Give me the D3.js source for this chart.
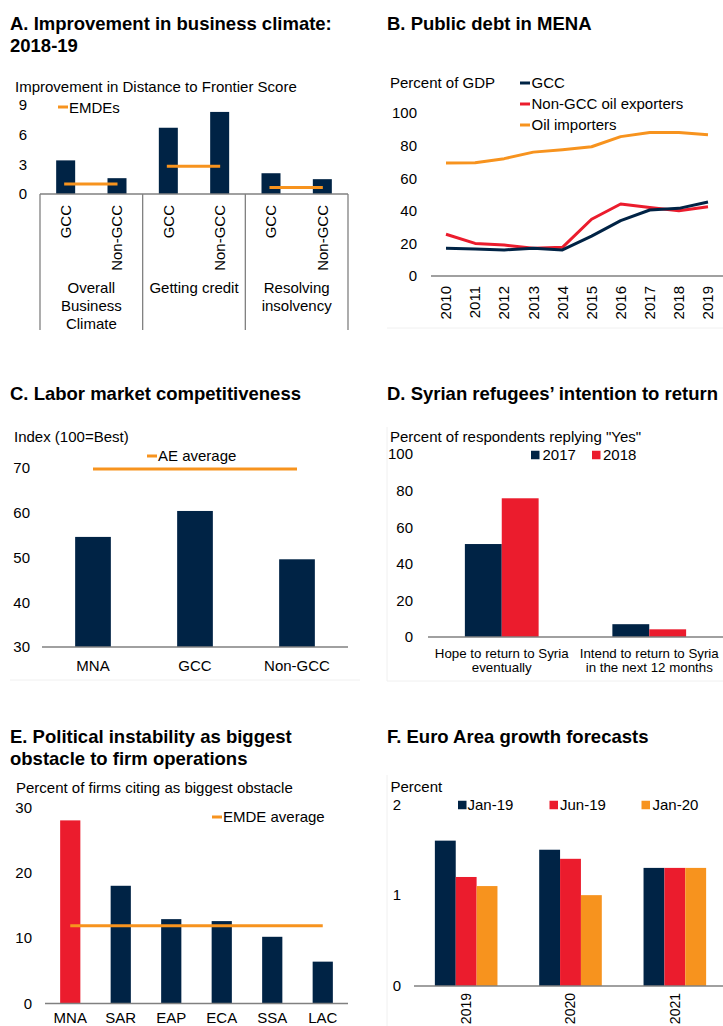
<!DOCTYPE html>
<html>
<head>
<meta charset="utf-8">
<script src="https://cdn.jsdelivr.net/npm/d3@7"></script>
<style>
  body { margin: 0; background: #fff; }
  svg text { font-family: "Liberation Sans", Arial, sans-serif; fill: #000; }
</style>
</head>
<body>
<svg id="chart" width="723" height="1026"></svg>
<script>
// ---- Panel A: business climate ----
const aGroupLines = [["Overall", "Business", "Climate"], ["Getting credit"], ["Resolving", "insolvency"]];
const aGroups = ["Overall Business Climate", "Getting credit", "Resolving insolvency"];
const aSubs = ["GCC", "Non-GCC"];
const aGCC = [3.4, 6.7, 2.1];
const aNonGCC = [1.6, 8.3, 1.5];
const aEMDE = [1.0, 2.8, 0.65];
const aTicks = [0, 3, 6, 9];

// ---- Panel B: public debt ----
const bYears = ["2010", "2011", "2012", "2013", "2014", "2015", "2016", "2017", "2018", "2019"];
const bGCC = [17, 16.5, 16, 17, 16, 24.5, 34, 40.5, 41.5, 45.4];
const bNonGCCExp = [25.6, 20, 19, 17, 17.6, 34.8, 44.2, 42, 40, 42.5];
const bImporters = [69.3, 69.5, 72, 76, 77.5, 79.3, 85.5, 88, 88, 86.7];
const bTicks = [0, 20, 40, 60, 80, 100];

// ---- Panel C: labor market ----
const cCats = ["MNA", "GCC", "Non-GCC"];
const cValues = [54.6, 60.4, 49.6];
const cAE = 69.8;
const cTicks = [30, 40, 50, 60, 70];

// ---- Panel D: refugees ----
const dCatLines = [["Hope to return to Syria", "eventually"], ["Intend to return to Syria", "in the next 12 months"]];
const dCats = ["Hope", "Intend"];
const dSeries = ["2017", "2018"];
const d2017 = [50.8, 7.0];
const d2018 = [75.8, 4.2];
const dTicks = [0, 20, 40, 60, 80, 100];

// ---- Panel E: political instability ----
const eCats = ["MNA", "SAR", "EAP", "ECA", "SSA", "LAC"];
const eValues = [28, 18, 12.9, 12.6, 10.2, 6.4];
const eAvg = 11.9;
const eTicks = [0, 10, 20, 30];

// ---- Panel F: euro area forecasts ----
const fYears = ["2019", "2020", "2021"];
const fSeries = ["Jan-19", "Jun-19", "Jan-20"];
const fJan19 = [1.6, 1.5, 1.3];
const fJun19 = [1.2, 1.4, 1.3];
const fJan20 = [1.1, 1.0, 1.3];
const fTicks = [0, 1, 2];

const NAVY = "#002345", RED = "#EB1C2D", ORANGE = "#F7931E", GRID = "#808080", FAINT = "#f0f0f0";
const FONT = "'Liberation Sans', Arial, sans-serif";

const svg = d3.select("#chart");
svg.append("rect").attr("width", 723).attr("height", 1026).attr("fill", "#fff");

function title(lines, x, y) {
  lines.forEach((t, i) => svg.append("text")
    .attr("x", x).attr("y", y + i * 22)
    .attr("font-size", 18.5).attr("font-weight", "bold").text(t));
}
function label(x, y, t, size = 15, anchor = "start") {
  return svg.append("text").attr("x", x).attr("y", y).attr("dy", "0.35em")
    .attr("font-size", size).attr("text-anchor", anchor).text(t);
}
function vlabel(x, yTop, t, size = 15) {
  return svg.append("text").attr("transform", `translate(${x},${yTop}) rotate(-90)`)
    .attr("dy", "0.35em").attr("font-size", size).attr("text-anchor", "end").text(t);
}
function leftAxis(scale, x, ticks, pad) {
  const g = svg.append("g").attr("transform", `translate(${x},0)`)
    .call(d3.axisLeft(scale).tickValues(ticks).tickFormat(d3.format("~g")).tickSize(0).tickPadding(pad));
  g.select(".domain").remove();
  g.attr("font-family", null).attr("font-size", null);
  g.selectAll("text").attr("font-size", 15).attr("font-family", FONT).attr("fill", "#000");
}
function hline(x1, x2, y, color = GRID, w = 1.3) {
  svg.append("line").attr("x1", x1).attr("x2", x2).attr("y1", y).attr("y2", y)
    .attr("stroke", color).attr("stroke-width", w);
}
function vline(x, y1, y2, color = GRID, w = 1.3) {
  svg.append("line").attr("x1", x).attr("x2", x).attr("y1", y1).attr("y2", y2)
    .attr("stroke", color).attr("stroke-width", w);
}
function lineSwatch(x, y, color) {
  svg.append("line").attr("x1", x).attr("x2", x + 10).attr("y1", y).attr("y2", y)
    .attr("stroke", color).attr("stroke-width", 3);
}
function squareSwatch(x, y, color) {
  svg.append("rect").attr("x", x).attr("y", y - 4.25).attr("width", 8.5).attr("height", 8.5).attr("fill", color);
}

// faint frame edges of the plot areas
hline(387, 723, 328, FAINT, 1);
vline(387, 427, 681, FAINT, 1);
hline(387, 723, 681, FAINT, 1);
hline(10, 360, 680, FAINT, 1);
vline(387, 775, 1026, FAINT, 1);

// ================= Panel A =================
title(["A. Improvement in business climate:", "2018-19"], 10, 30);
label(15, 87, "Improvement in Distance to Frontier Score");
{
  const y = d3.scaleLinear().domain([0, 9]).range([194, 105]);
  const gx = d3.scaleBand().domain(aGroups).range([40, 348]);
  const sx = d3.scalePoint().domain(aSubs).range([0, gx.bandwidth()]).padding(0.5);
  leftAxis(y, 40, aTicks, 13);
  const rows = aGroups.map((g, i) => ({ g, vals: [aGCC[i], aNonGCC[i]], emde: aEMDE[i], lines: aGroupLines[i] }));
  rows.forEach(r => {
    r.vals.forEach((v, j) => {
      const cx = gx(r.g) + sx(aSubs[j]);
      svg.append("rect").attr("x", cx - 9.5).attr("width", 19)
        .attr("y", y(v)).attr("height", y(0) - y(v)).attr("fill", NAVY);
      vlabel(cx, 205, aSubs[j]);
    });
    svg.append("line")
      .attr("x1", gx(r.g) + sx(aSubs[0]) - 1.5).attr("x2", gx(r.g) + sx(aSubs[1]) + 0.5)
      .attr("y1", y(r.emde)).attr("y2", y(r.emde))
      .attr("stroke", ORANGE).attr("stroke-width", 3);
    r.lines.forEach((t, k) => label(gx(r.g) + gx.bandwidth() / 2, 288 + k * 18, t, 15, "middle"));
  });
  hline(40, 348, y(0));
  gx.domain().forEach(g => vline(gx(g), y(0), 330));
  vline(348, y(0), 330);
  lineSwatch(58, 107, ORANGE);
  label(69, 107.5, "EMDEs");
}

// ================= Panel B =================
title(["B. Public debt in MENA"], 387, 30);
label(390, 83, "Percent of GDP");
{
  const x = d3.scalePoint().domain(bYears).range([446, 708]);
  const y = d3.scaleLinear().domain([0, 100]).range([276, 113]);
  leftAxis(y, 431, bTicks, 14);
  hline(431, 723, y(0));
  bYears.forEach(yr => vlabel(x(yr), 286, yr));
  const line = d3.line().x((d, i) => x(bYears[i])).y(d => y(d));
  [[bImporters, ORANGE], [bNonGCCExp, RED], [bGCC, NAVY]].forEach(([vals, c]) => {
    svg.append("path").datum(vals).attr("d", line).attr("fill", "none")
      .attr("stroke", c).attr("stroke-width", 3).attr("stroke-linejoin", "round");
  });
  [["GCC", NAVY, 83], ["Non-GCC oil exporters", RED, 104], ["Oil importers", ORANGE, 125]].forEach(([t, c, yy]) => {
    lineSwatch(520, yy, c);
    label(531.5, yy, t);
  });
}

// ================= Panel C =================
title(["C. Labor market competitiveness"], 10, 400);
label(14, 437, "Index (100=Best)");
{
  const x = d3.scaleBand().domain(cCats).range([42, 348]).paddingInner(0.65).paddingOuter(0.325);
  const y = d3.scaleLinear().domain([30, 70]).range([647, 468]);
  leftAxis(y, 42, cTicks, 12);
  cCats.forEach((c, i) => {
    svg.append("rect").attr("x", x(c)).attr("width", x.bandwidth())
      .attr("y", y(cValues[i])).attr("height", y(30) - y(cValues[i])).attr("fill", NAVY);
    label(x(c) + x.bandwidth() / 2, 666, c, 15, "middle");
  });
  hline(42, 348, y(30));
  svg.append("line")
    .attr("x1", x(cCats[0]) + x.bandwidth() / 2).attr("x2", x(cCats[2]) + x.bandwidth() / 2)
    .attr("y1", y(cAE)).attr("y2", y(cAE)).attr("stroke", ORANGE).attr("stroke-width", 3);
  lineSwatch(147, 456, ORANGE);
  label(158, 456, "AE average");
}

// ================= Panel D =================
title(["D. Syrian refugees\u2019 intention to return"], 387, 400);
label(390, 437, "Percent of respondents replying \"Yes\"");
{
  const x0 = d3.scaleBand().domain(dCats).range([428, 723]).paddingInner(0.5).paddingOuter(0.25);
  const x1 = d3.scaleBand().domain(dSeries).range([0, x0.bandwidth()]);
  const y = d3.scaleLinear().domain([0, 100]).range([637, 454]);
  leftAxis(y, 428, dTicks, 15);
  const cols = { "2017": NAVY, "2018": RED };
  dCats.forEach((c, i) => {
    [["2017", d2017[i]], ["2018", d2018[i]]].forEach(([s, v]) => {
      svg.append("rect").attr("x", x0(c) + x1(s)).attr("width", x1.bandwidth())
        .attr("y", y(v)).attr("height", y(0) - y(v)).attr("fill", cols[s]);
    });
    dCatLines[i].forEach((t, k) => label(x0(c) + x0.bandwidth() / 2, 653 + k * 14, t, 13.3, "middle"));
  });
  hline(428, 723, y(0));
  squareSwatch(531, 455, NAVY);
  label(542.5, 455, "2017");
  squareSwatch(592, 455, RED);
  label(603, 455, "2018");
}

// ================= Panel E =================
title(["E. Political instability as biggest", "obstacle to firm operations"], 10, 743);
label(16, 788, "Percent of firms citing as biggest obstacle");
{
  const x = d3.scaleBand().domain(eCats).range([45, 348]).paddingInner(0.6).paddingOuter(0.3);
  const y = d3.scaleLinear().domain([0, 30]).range([1003.5, 807.3]);
  leftAxis(y, 45, eTicks, 13);
  eCats.forEach((c, i) => {
    svg.append("rect").attr("x", x(c)).attr("width", x.bandwidth())
      .attr("y", y(eValues[i])).attr("height", y(0) - y(eValues[i]))
      .attr("fill", c === "MNA" ? RED : NAVY);
    label(x(c) + x.bandwidth() / 2, 1017.5, c, 15, "middle");
  });
  hline(45, 348, y(0));
  svg.append("line")
    .attr("x1", x(eCats[0]) + x.bandwidth() / 2).attr("x2", x(eCats[5]) + x.bandwidth() / 2)
    .attr("y1", y(eAvg)).attr("y2", y(eAvg)).attr("stroke", ORANGE).attr("stroke-width", 3);
  lineSwatch(212, 817, ORANGE);
  label(223, 817, "EMDE average");
}

// ================= Panel F =================
title(["F. Euro Area growth forecasts"], 387, 743);
label(390.5, 787, "Percent");
{
  const x0 = d3.scaleBand().domain(fYears).range([414, 727]).paddingInner(0.4).paddingOuter(0.2);
  const x1 = d3.scaleBand().domain(fSeries).range([0, x0.bandwidth()]);
  const y = d3.scaleLinear().domain([0, 2]).range([986, 804.3]);
  leftAxis(y, 414, fTicks, 13);
  const cols = [NAVY, RED, ORANGE];
  const vals = [fJan19, fJun19, fJan20];
  fYears.forEach((yr, i) => {
    fSeries.forEach((s, j) => {
      const v = vals[j][i];
      svg.append("rect").attr("x", x0(yr) + x1(s)).attr("width", x1.bandwidth())
        .attr("y", y(v)).attr("height", y(0) - y(v)).attr("fill", cols[j]);
    });
    vlabel(x0(yr) + x0.bandwidth() / 2, 993, yr, 14);
  });
  hline(414, 723, y(0));
  [[458, 467.5], [549.5, 560], [641.5, 652.5]].forEach(([sx, tx], j) => {
    squareSwatch(sx, 805, cols[j]);
    label(tx, 805, fSeries[j]);
  });
}
</script>
</body>
</html>
